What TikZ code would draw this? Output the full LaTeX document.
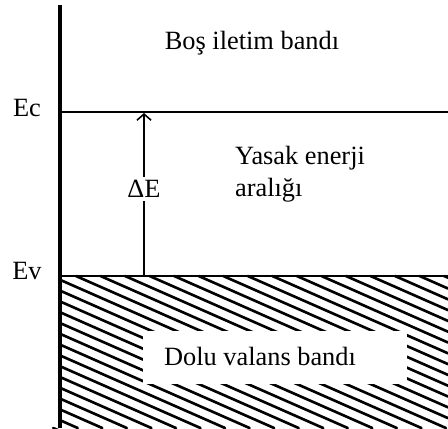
\documentclass[tikz,border=0pt]{standalone}
\usepackage{fontspec}
\setmainfont{Liberation Serif}
\usetikzlibrary{positioning, arrows.meta}

\begin{document}
\begin{tikzpicture}[
    x=0.02cm, y=-0.02cm,
    lbl/.style={font=\fontsize{15}{18}\selectfont, inner sep=1pt},
    axis/.style={line width=2.4pt},
    level/.style={line width=1.7pt},
    hatch/.style={line width=1.5pt, line cap=round},
    gap/.style={-{Straight Barb[length=3.5pt, width=8pt]}, line width=0.9pt},
]
\useasboundingbox (0,0) rectangle (448,428);

% Axis and band edges
\coordinate (top) at (60,5);
\coordinate (bot) at (60,428);
\coordinate (ec0) at (60,112);
\coordinate (ec1) at (448,112);
\coordinate (ev0) at (60,276);
\coordinate (ev1) at (448,276);

% Hatching of the valence band (slope 0.44, cut to the band)
\foreach \n in {0,...,30} {
    \pgfmathsetmacro\c{107+10.8*\n}
    \pgfmathsetmacro\xa{max(60,60+(276-\c)/0.44)}
    \pgfmathsetmacro\ya{\c+0.44*(\xa-60)}
    \pgfmathsetmacro\xb{min(448,60+(428-\c)/0.44)}
    \pgfmathsetmacro\yb{\c+0.44*(\xb-60)}
    \draw[hatch] (\xa,\ya) -- (\xb,\yb);
}
\fill[white] (143,331) rectangle (407,384);

\draw[level] (ec0) -- (ec1);
\draw[level] (ev0) -- (ev1);
\draw[axis] (top) -- (bot);

% Labels
\node[lbl] (ec) at (27,108) {Ec};
\node[lbl] (ev) at (27,271) {Ev};
\node[lbl] (cond) at (252,43) {Boş iletim bandı};
\node[lbl, align=left, anchor=west] (forb) at (233,174) {Yasak enerji\\aralığı};
\node[lbl] (val) at (260,356) {Dolu valans bandı};

% Band gap arrow
\coordinate (ga) at (144,276);
\coordinate (gb) at (144,113);
\draw[gap] (ga) -- (gb);
\node[lbl, fill=white, inner sep=2pt] (de) at (144,189) {ΔE};
\end{tikzpicture}
\end{document}
